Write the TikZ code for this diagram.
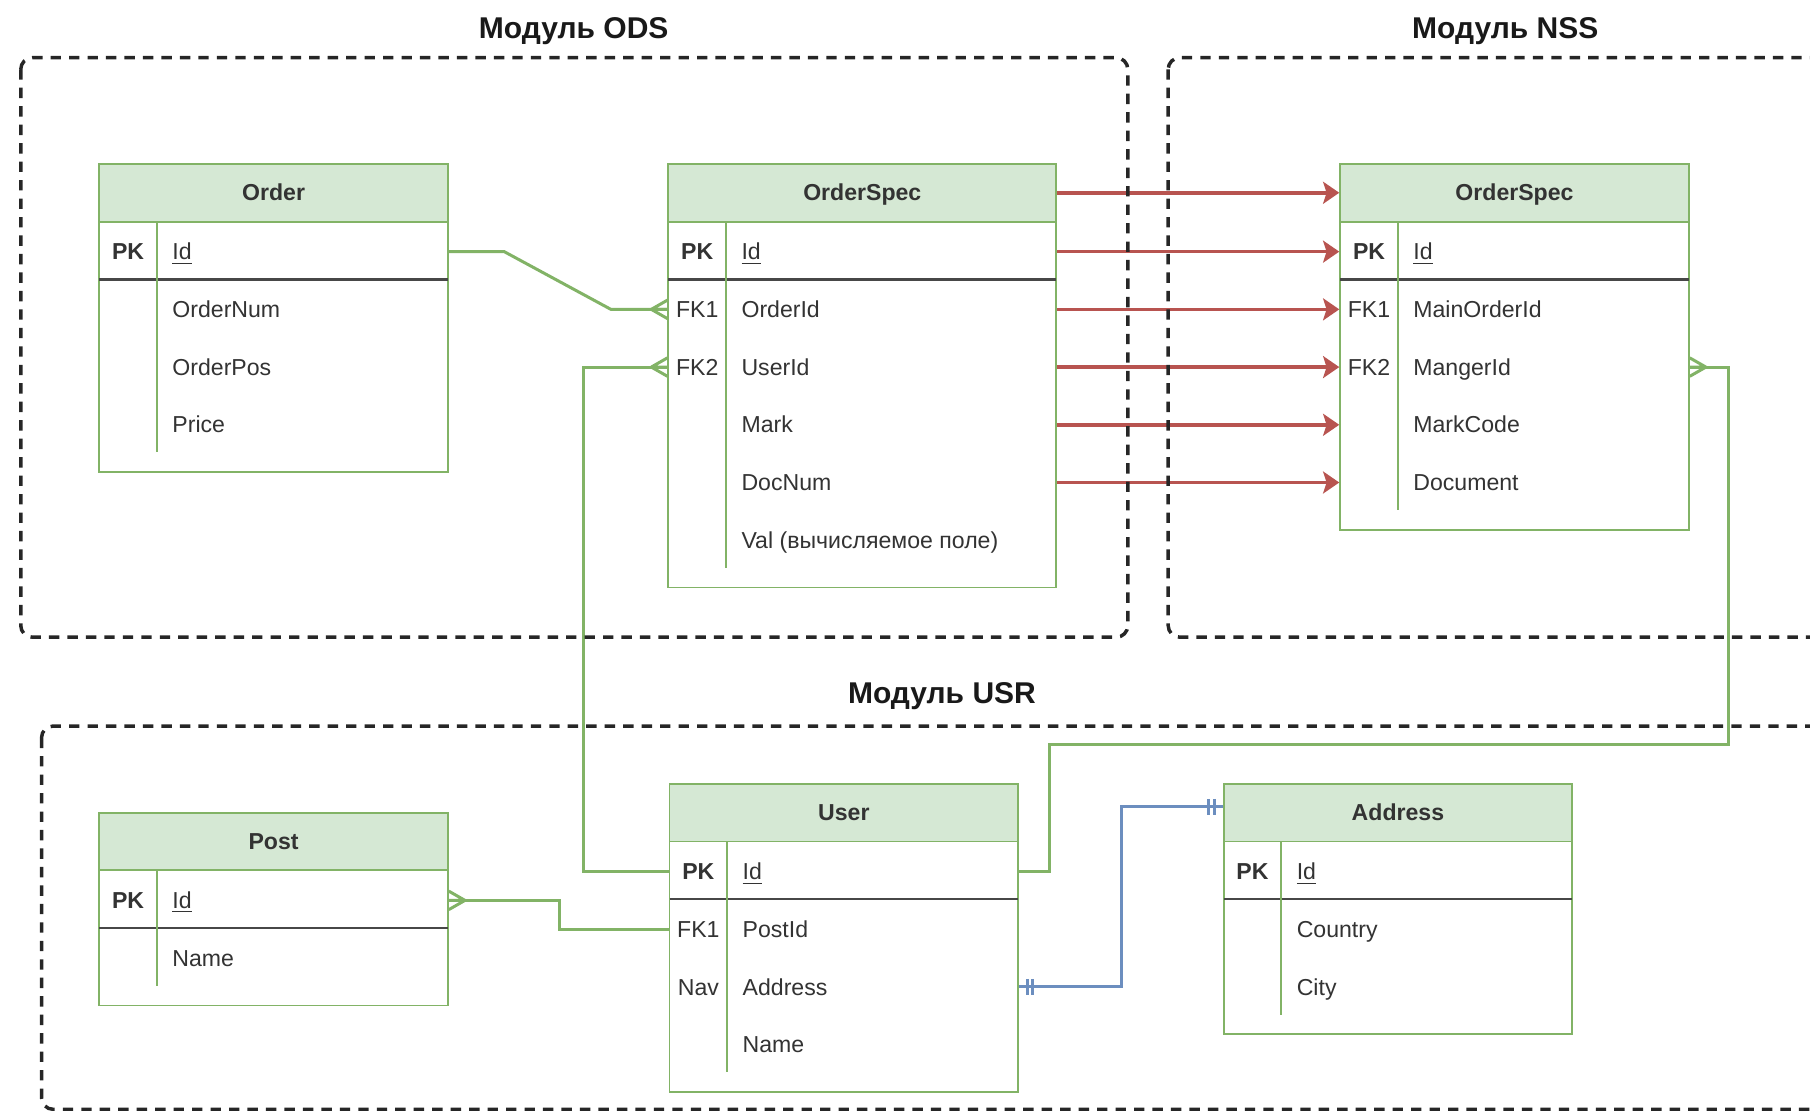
\documentclass[tikz,border=0pt]{standalone}
\usepackage{fontspec}
\setmainfont{Liberation Sans}
\usetikzlibrary{fit,arrows.meta,calc}
\definecolor{grnfill}{HTML}{D5E8D4}
\definecolor{grnline}{HTML}{82B366}
\definecolor{redline}{HTML}{B85450}
\definecolor{blueline}{HTML}{6C8EBF}
\definecolor{txt}{HTML}{333333}
\tikzset{
  tbl/.style={draw=grnline, line width=0.8pt, inner sep=0pt, fill=white},
  hdr/.style={draw=grnline, fill=grnfill, line width=0.8pt, inner sep=0pt},
  hdrtxt/.style={text=txt, inner sep=0pt, text height=8pt, text depth=1pt, font=\bfseries\fontsize{10}{12}\selectfont},
  pkline/.style={draw=txt!90, line width=1pt},
  divline/.style={draw=grnline, line width=0.8pt},
  keyb/.style={text=txt, inner sep=0pt, text height=8pt, text depth=1pt, font=\bfseries\fontsize{10}{12}\selectfont},
  keyn/.style={text=txt, inner sep=0pt, text height=8pt, text depth=1pt, font=\fontsize{10}{12}\selectfont},
  fld/.style={text=txt, inner sep=0pt, anchor=west, text height=8pt, text depth=1pt, font=\fontsize{10}{12}\selectfont},
  modbox/.style={draw=black!85, line width=1.5pt, dash pattern=on 4.5pt off 3.5pt, rounded corners=5pt},
  modtitle/.style={text=black!90, inner sep=0pt, font=\bfseries\fontsize{13}{15}\selectfont},
  conn/.style={draw=grnline, line width=1.3pt},
  bconn/.style={draw=blueline, line width=1.3pt},
  redarr/.style={draw=redline, line width=1.5pt, -{Stealth[length=7pt,width=9.5pt,inset=1.5pt]}},
}
\newcommand{\ertable}[6]{% name, x, y, w, nrows, title
  \node[tbl, fit={(#2,#3) ({#2+#4},{#3+117+50*#5})}] (#1) {};
  \node[hdr, fit={(#2,#3) ({#2+#4},{#3+50})}] (#1-h) {};
  \node[hdrtxt] (#1-t) at (#1-h.center) {#6};
  \draw[pkline] (#2,{#3+100}) -- ({#2+#4},{#3+100});
  \draw[divline] ({#2+50},{#3+50}) -- ({#2+50},{#3+100+50*#5});
}
\newcommand{\crowfoot}[2]{% point, direction (+1 right, -1 left)
  \draw[conn] ($(#1)+(#2*14,0)$) -- ($(#1)+(0,-8)$)
              ($(#1)+(#2*14,0)$) -- (#1)
              ($(#1)+(#2*14,0)$) -- ($(#1)+(0,8)$);
}
\newcommand{\bars}[2]{% point, direction
  \draw[bconn] ($(#1)+(#2*7,-7)$) -- ($(#1)+(#2*7,7)$)
               ($(#1)+(#2*12,-7)$) -- ($(#1)+(#2*12,7)$);
}
\begin{document}
\begin{tikzpicture}[x=0.5pt,y=-0.5pt]
\useasboundingbox (0,0) rectangle (1568,962);
\clip (0,0) rectangle (1568,962);

% ---------- tables ----------
\ertable{order}{86}{142}{302}{3}{Order}
\node[keyb] (order-pk) at (111,218) {PK};
\node[fld] (order-id) at (149,218) {\underline{Id}};
\node[fld] (order-num) at (149,268) {OrderNum};
\node[fld] (order-pos) at (149,318) {OrderPos};
\node[fld] (order-price) at (149,368) {Price};

\ertable{spec}{579}{142}{336}{5}{OrderSpec}
\node[keyb] (spec-pk) at (604,218) {PK};
\node[fld] (spec-id) at (642,218) {\underline{Id}};
\node[keyn] (spec-fk1) at (604,268) {FK1};
\node[fld] (spec-oid) at (642,268) {OrderId};
\node[keyn] (spec-fk2) at (604,318) {FK2};
\node[fld] (spec-uid) at (642,318) {UserId};
\node[fld] (spec-mark) at (642,368) {Mark};
\node[fld] (spec-doc) at (642,418) {DocNum};
\node[fld] (spec-val) at (642,468) {Val (вычисляемое поле)};

\ertable{nspec}{1161}{142}{302}{4}{OrderSpec}
\node[keyb] (nspec-pk) at (1186,218) {PK};
\node[fld] (nspec-id) at (1224,218) {\underline{Id}};
\node[keyn] (nspec-fk1) at (1186,268) {FK1};
\node[fld] (nspec-moid) at (1224,268) {MainOrderId};
\node[keyn] (nspec-fk2) at (1186,318) {FK2};
\node[fld] (nspec-mid) at (1224,318) {MangerId};
\node[fld] (nspec-mc) at (1224,368) {MarkCode};
\node[fld] (nspec-doc) at (1224,418) {Document};

\ertable{user}{580}{679}{302}{3}{User}
\node[keyb] (user-pk) at (605,755) {PK};
\node[fld] (user-id) at (643,755) {\underline{Id}};
\node[keyn] (user-fk1) at (605,805) {FK1};
\node[fld] (user-pid) at (643,805) {PostId};
\node[keyn] (user-nav) at (605,855) {Nav};
\node[fld] (user-addr) at (643,855) {Address};
\node[fld] (user-name) at (643,905) {Name};

\ertable{post}{86}{704}{302}{1}{Post}
\node[keyb] (post-pk) at (111,780) {PK};
\node[fld] (post-id) at (149,780) {\underline{Id}};
\node[fld] (post-name) at (149,830) {Name};

\ertable{addr}{1060}{679}{302}{2}{Address}
\node[keyb] (addr-pk) at (1085,755) {PK};
\node[fld] (addr-id) at (1123,755) {\underline{Id}};
\node[fld] (addr-country) at (1123,805) {Country};
\node[fld] (addr-city) at (1123,855) {City};

% ---------- red mapping arrows ----------
\draw[redarr] (spec.east |- spec-h) -- (nspec.west |- nspec-h);
\draw[redarr] (spec.east |- spec-id) -- (nspec.west |- nspec-id);
\draw[redarr] (spec.east |- spec-oid) -- (nspec.west |- nspec-moid);
\draw[redarr] (spec.east |- spec-uid) -- (nspec.west |- nspec-mid);
\draw[redarr] (spec.east |- spec-mark) -- (nspec.west |- nspec-mc);
\draw[redarr] (spec.east |- spec-doc) -- (nspec.west |- nspec-doc);

% ---------- green relations ----------
\coordinate (cf1) at (spec.west |- spec-oid);
\coordinate (cf2) at (spec.west |- spec-uid);
\coordinate (cf3) at (nspec.east |- nspec-mid);
\coordinate (cf4) at (post.east |- post-id);

\draw[conn] (order.east |- order-id) -- ++(48,0) -- ($(cf1)+(-49,0)$) -- (cf1);
\crowfoot{cf1}{-1}
\draw[conn] (user.west |- user-id) -- ++(-74,0) |- (cf2);
\crowfoot{cf2}{-1}
\draw[conn] (user.east |- user-id) -- ++(26,0) -- ++(0,-110) -| ($(cf3)+(34,0)$) -- (cf3);
\crowfoot{cf3}{1}
\draw[conn] (cf4) -- ++(96,0) |- (user.west |- user-pid);
\crowfoot{cf4}{1}

% ---------- blue one-to-one ----------
\coordinate (b1) at (user.east |- user-addr);
\coordinate (b2) at ($(addr-h.west)+(0,-5)$);
\draw[bconn] (b1) -- ++(89,0) |- (b2);
\bars{b1}{1}
\bars{b2}{-1}

% ---------- module frames ----------
\draw[modbox] (18,50) rectangle (977,552);
\draw[modbox] (1012,50) rectangle (1620,552);
\draw[modbox] (36,629) rectangle (1620,961);
\node[modtitle] (t-ods) at (497,27) {Модуль ODS};
\node[modtitle] (t-nss) at (1304,27) {Модуль NSS};
\node[modtitle] (t-usr) at (816,603) {Модуль USR};
\end{tikzpicture}
\end{document}
